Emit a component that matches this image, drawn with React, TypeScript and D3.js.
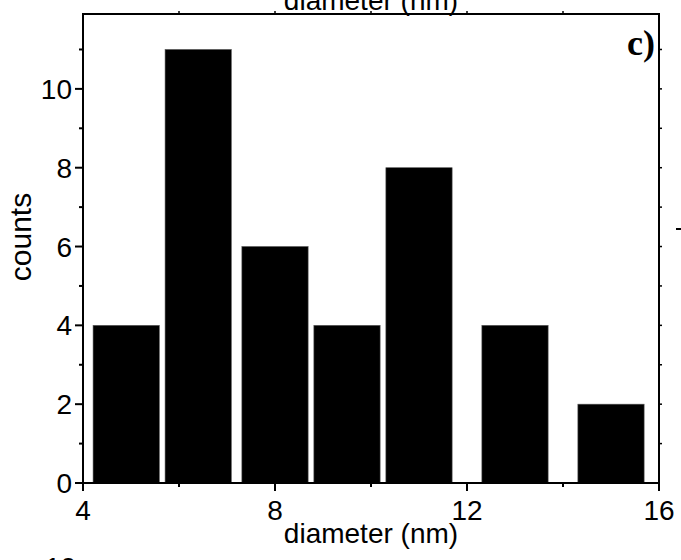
import React from "react";
import * as d3 from "d3";

// Particle size histogram (panel c)
const binCenters = [4.9, 6.4, 8.0, 9.5, 11.0, 13.0, 15.0];
const counts = [4, 11, 6, 4, 8, 4, 2];
const binWidth = 1.38;
const xMajorTicks = [4, 8, 12, 16];
const xMinorTicks = [6, 10, 14];
const xTopTicks = [6, 8, 10, 12, 14];
const yMajorTicks = [0, 2, 4, 6, 8, 10];
const yMinorTicks = [1, 3, 5, 7, 9, 11];
const yRightTicks = [1, 2, 3, 4, 5, 6, 7, 8, 9, 10, 11];

const W = 681;
const H = 560;
const left = 83;
const right = 659;
const top = 14;
const bottom = 483;

export default function App() {
  const x = d3.scaleLinear().domain([4, 16]).range([left, right]);
  const y = d3.scaleLinear().domain([0, 11.9]).range([bottom, top]);
  const sans = "Liberation Sans, Arial, sans-serif";
  const fs = 28;

  return (
    <svg
      width={W}
      height={H}
      style={{ position: "absolute", left: 0, top: 0, background: "#fff" }}
    >
      {/* bars */}
      {binCenters.map((c, i) => (
        <rect
          key={i}
          x={x(c - binWidth / 2)}
          y={y(counts[i])}
          width={x(c + binWidth / 2) - x(c - binWidth / 2)}
          height={y(0) - y(counts[i])}
          fill="#000"
          stroke="#555"
          strokeWidth={0.6}
        />
      ))}

      {/* frame */}
      <rect
        x={left}
        y={top}
        width={right - left}
        height={bottom - top}
        fill="none"
        stroke="#000"
        strokeWidth={2}
      />

      {/* bottom axis ticks */}
      {xMajorTicks.map((t) => (
        <g key={"xM" + t}>
          <line x1={x(t)} x2={x(t)} y1={bottom} y2={bottom + 8} stroke="#000" strokeWidth={2} />
          <text
            x={x(t)}
            y={bottom + 37}
            textAnchor="middle"
            fontFamily={sans}
            fontSize={fs}
          >
            {t}
          </text>
        </g>
      ))}
      {xMinorTicks.map((t) => (
        <line key={"xm" + t} x1={x(t)} x2={x(t)} y1={bottom} y2={bottom + 4} stroke="#000" strokeWidth={2} />
      ))}
      {/* top axis ticks */}
      {xTopTicks.map((t) => (
        <line key={"xt" + t} x1={x(t)} x2={x(t)} y1={top} y2={top - 3} stroke="#000" strokeWidth={1.5} />
      ))}

      {/* left axis ticks */}
      {yMajorTicks.map((t) => (
        <g key={"yM" + t}>
          <line x1={left - 8} x2={left} y1={y(t)} y2={y(t)} stroke="#000" strokeWidth={2} />
          <text
            x={left - 11}
            y={y(t) + 10}
            textAnchor="end"
            fontFamily={sans}
            fontSize={fs}
          >
            {t}
          </text>
        </g>
      ))}
      {yMinorTicks.map((t) => (
        <line key={"ym" + t} x1={left - 4} x2={left} y1={y(t)} y2={y(t)} stroke="#000" strokeWidth={2} />
      ))}
      {/* right axis ticks */}
      {yRightTicks.map((t) => (
        <line key={"yr" + t} x1={right} x2={right + 3} y1={y(t)} y2={y(t)} stroke="#000" strokeWidth={1.5} />
      ))}

      {/* axis titles */}
      <text
        x={(left + right) / 2}
        y={543}
        textAnchor="middle"
        fontFamily={sans}
        fontSize={28}
      >
        diameter (nm)
      </text>
      <text
        x={(left + right) / 2}
        y={10}
        textAnchor="middle"
        fontFamily={sans}
        fontSize={28}
      >
        diameter (nm)
      </text>
      <text
        transform="translate(31, 237) rotate(-90)"
        textAnchor="middle"
        fontFamily={sans}
        fontSize={30}
      >
        counts
      </text>

      {/* panel label */}
      <text
        x={655}
        y={55}
        textAnchor="end"
        fontFamily="Liberation Serif, Times New Roman, serif"
        fontWeight="bold"
        fontSize={36}
      >
        c)
      </text>

      {/* fragments of neighbouring panels */}
      <text x={45} y={577} fontFamily={sans} fontSize={28}>
        10
      </text>
      <line x1={676} x2={681} y1={229} y2={229} stroke="#000" strokeWidth={2} />
    </svg>
  );
}
